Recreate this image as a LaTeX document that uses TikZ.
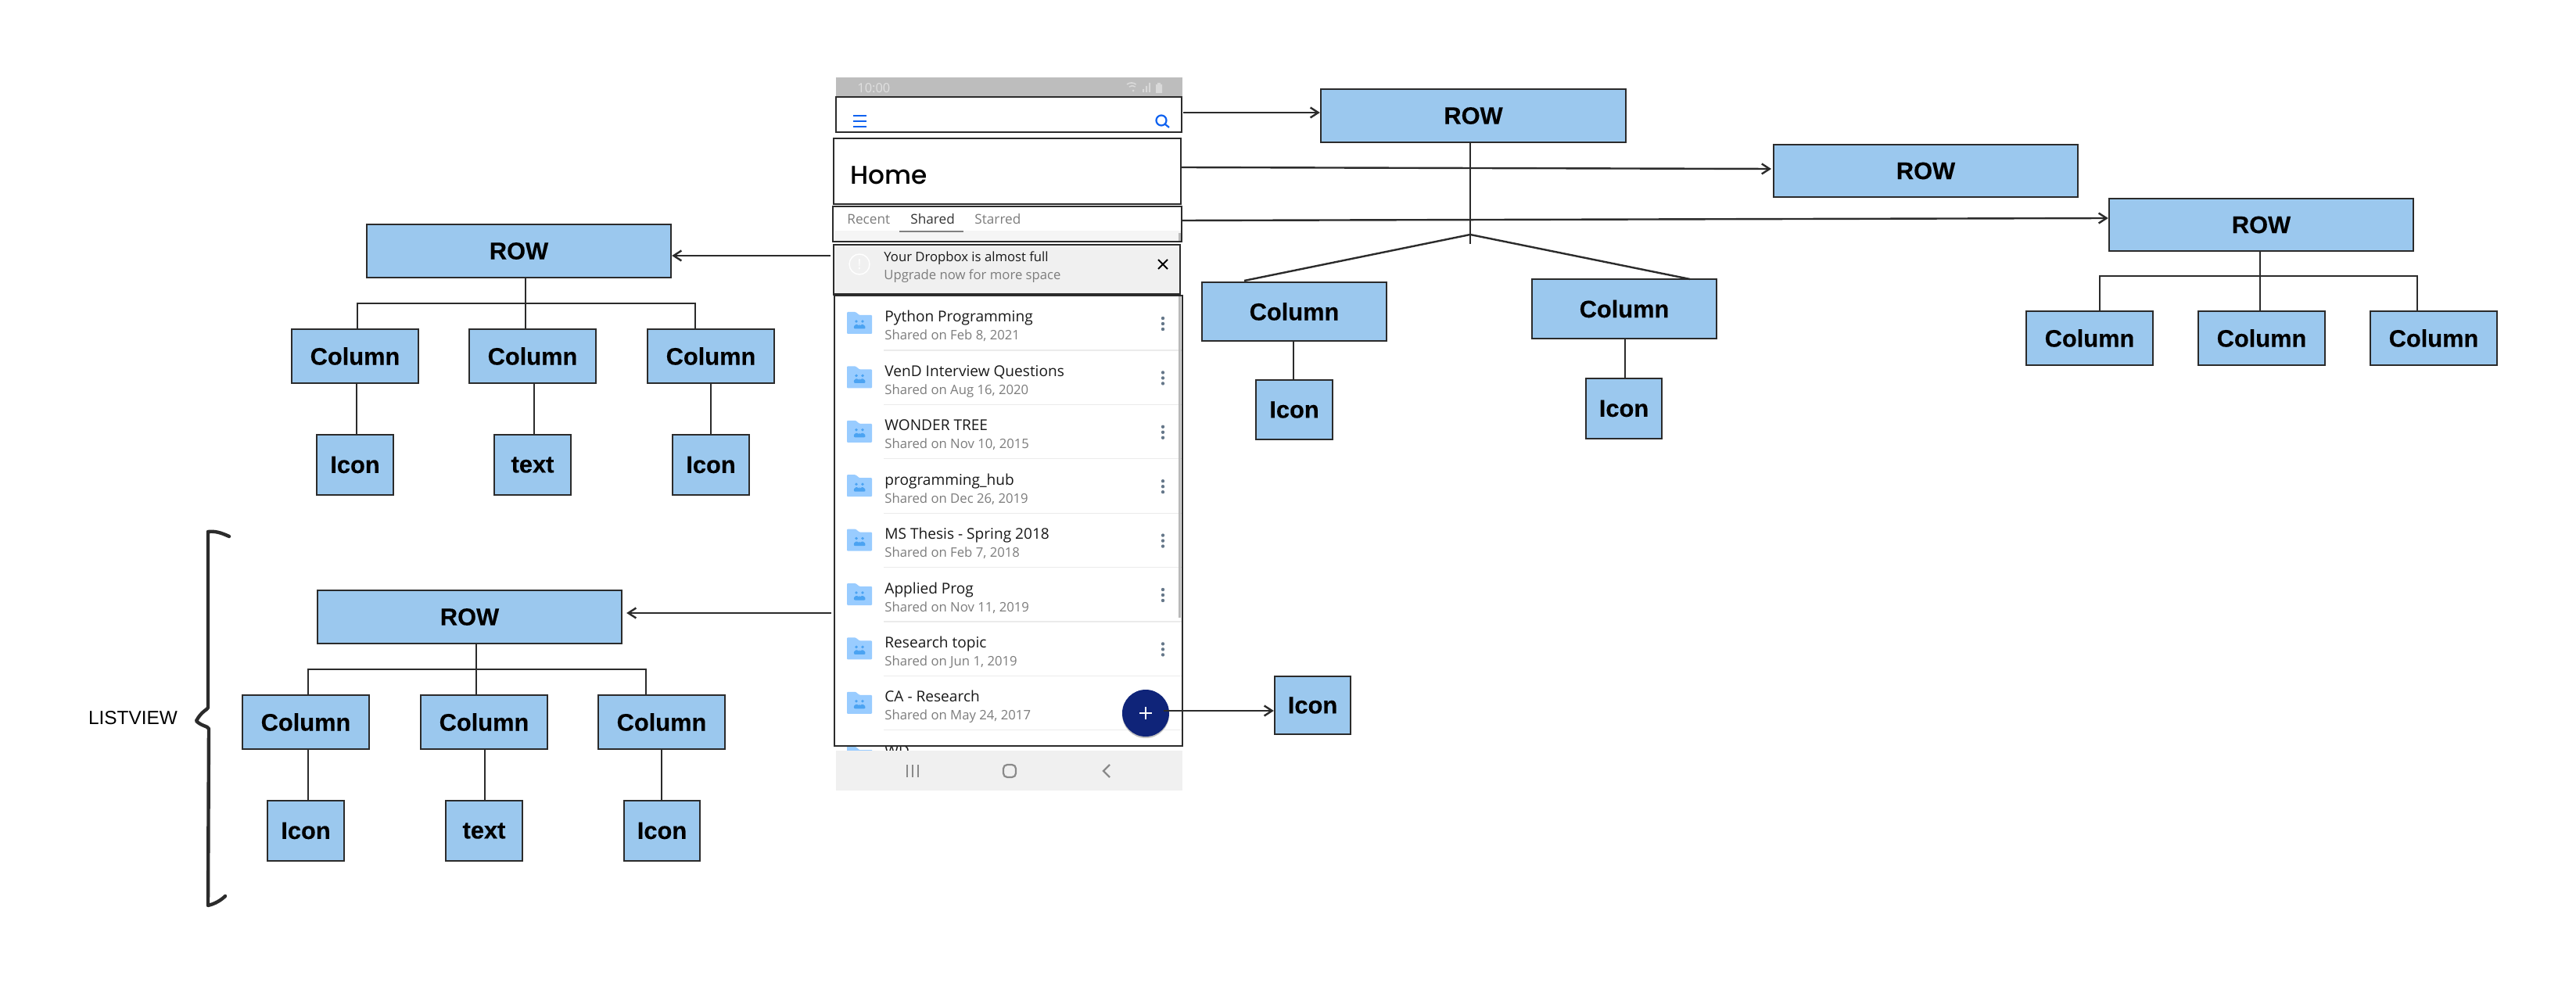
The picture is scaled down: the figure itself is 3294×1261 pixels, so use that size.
\documentclass[tikz,border=0pt]{standalone}
\usepackage{fontspec}
\setmainfont[BoldFeatures={FakeBold=0.25}]{Liberation Sans}
\newfontfamily\uifont{Open Sans}
\newfontfamily\homefont{Poppins Medium}
\usetikzlibrary{arrows.meta,calc}
\definecolor{boxblue}{HTML}{9BC8EE}
\definecolor{ink}{HTML}{2B2B2B}
\definecolor{folderblue}{HTML}{99CCFF}
\definecolor{folderdark}{HTML}{4BA3F2}
\definecolor{uiblue}{HTML}{0F62F0}
\definecolor{fabblue}{HTML}{0F2479}
\definecolor{subgrey}{HTML}{7C7C7C}
\definecolor{barfill}{HTML}{F0F0F0}
\definecolor{statusgrey}{HTML}{BDBDBD}
\definecolor{navgrey}{HTML}{8A8A8A}
\definecolor{dotgrey}{HTML}{66788A}
\tikzset{
  bluebox/.style={draw=ink,line width=1.2pt,fill=boxblue,inner sep=0pt,font=\fontsize{15.4}{18}\selectfont\bfseries,text=black},
  link/.style={draw=ink,line width=1.2pt},
  feed/.style={draw=ink,line width=1.2pt,-{Straight Barb[length=5pt,width=6.5pt,line width=1.2pt]}},
  frame/.style={draw=ink,line width=1.3pt,inner sep=0pt},
  title/.style={anchor=base west,inner sep=0pt,font=\uifont\fontsize{9.55}{11}\selectfont,text=black!90},
  subtitle/.style={anchor=base west,inner sep=0pt,font=\uifont\fontsize{8.35}{10}\selectfont,text=subgrey},
  tab/.style={anchor=base west,inner sep=0pt,font=\uifont\fontsize{8.6}{10}\selectfont,text=subgrey},
}
% name x1 y1 x2 y2 text
\newcommand{\blueboxat}[6]{\node[bluebox,minimum width={(#4-#2)*0.5pt},minimum height={(#5-#3)*0.5pt}] (#1) at ({(#2+#4)/2},{(#3+#5)/2}) {#6};}
\newcommand{\frameat}[6][]{\node[frame,#1,minimum width={(#5-#3)*0.5pt},minimum height={(#6-#4)*0.5pt}] (#2) at ({(#3+#5)/2},{(#4+#6)/2}) {};}
% index, title, subtitle
\newcommand{\listrow}[3]{%
  \pgfmathsetmacro{\rowy}{69.4*#1}%
  \begin{scope}[yshift={-\rowy*0.5pt}]
    \fill[folderblue,rounded corners=0.5pt] (1083,427) -- (1083,399) -- (1094,399) -- (1099,403) -- (1115,403) -- (1115,427) -- cycle;
    \fill[folderdark] (1095,411) circle (1.9) (1103,411) circle (1.9);
    \fill[folderdark,rounded corners=1pt] (1091.5,420.5) -- (1092.5,415) -- (1098,415) -- (1099,417) -- (1100,415) -- (1105.5,415) -- (1107,420.5) -- cycle;
    \ifnum#1<7
      \fill[dotgrey] (1487,407) circle (2.2) (1487,414) circle (2.2) (1487,421) circle (2.2);
    \fi
    \node[title] (rowtitle#1) at (1131,412) {#2};
    \node[subtitle] (rowsub#1) at (1131,435) {#3};
    \draw[black!8,line width=0.6pt] (1130,448) -- (1511,448);
  \end{scope}}
\begin{document}
\begin{tikzpicture}[x=0.5pt,y=-0.5pt]
\useasboundingbox[fill=white] (0,0) rectangle (3294,1261);

% ---- phone mock-up ----
\fill[statusgrey] (1069,99) rectangle (1512,124);
\node[anchor=base west,inner sep=0,font=\uifont\fontsize{8.2}{10}\selectfont,text=black!12] (clock) at (1096,119) {10:00};
\begin{scope}[white!85!black]
  \draw[line width=0.8pt] (1441,108) arc[start angle=230,end angle=310,radius=9];
  \draw[line width=0.8pt] (1444,111) arc[start angle=230,end angle=310,radius=6];
  \fill (1449,116) circle (1.5);
  \fill (1461,118) rectangle (1463,114) (1465,118) rectangle (1467,110) (1469,118) rectangle (1471,106);
  \fill (1478,108) rectangle (1486,119) (1480,106) rectangle (1484,108);
\end{scope}

% list items (below nav bar and frames)
\listrow{0}{Python Programming}{Shared on Feb 8, 2021}
\listrow{1}{VenD Interview Questions}{Shared on Aug 16, 2020}
\listrow{2}{WONDER TREE}{Shared on Nov 10, 2015}
\listrow{3}{programming\_hub}{Shared on Dec 26, 2019}
\listrow{4}{MS Thesis - Spring 2018}{Shared on Feb 7, 2018}
\listrow{5}{Applied Prog}{Shared on Nov 11, 2019}
\listrow{6}{Research topic}{Shared on Jun 1, 2019}
\listrow{7}{CA - Research}{Shared on May 24, 2017}
\fill[folderblue] (1083,980) -- (1083,955) -- (1094,955) -- (1099,959) -- (1115,959) -- (1115,980) -- cycle;
\node[title] (rowpartial) at (1131,967) {WD};
\fill[gray!55] (1506.5,378) rectangle (1510,790);

% nav bar
\fill[barfill] (1069,960) rectangle (1512,1011);
\fill[white] (1069,1011) rectangle (1512,1030);
\draw[navgrey,line width=1.1pt] (1160,978) -- (1160,994) (1167,978) -- (1167,994) (1174,978) -- (1174,994);
\draw[navgrey,line width=1.1pt,rounded corners=2.5pt] (1283,978) rectangle (1299,994);
\draw[navgrey,line width=1.1pt] (1419,978) -- (1411,986) -- (1419,994);

% app bar
\frameat{appbar}{1069}{124}{1511}{169}
\draw[uiblue,line width=1pt] (1091,148) -- (1108,148) (1091,155) -- (1108,155) (1091,162) -- (1108,162);
\draw[uiblue,line width=1.1pt] (1485,154) circle (6.5) (1490,159) -- (1495,163);

% home
\frameat{homebar}{1066}{177}{1510}{261}
\node[anchor=base west,inner sep=0,font=\homefont\fontsize{16.4}{18}\selectfont,text=black] (hometext) at (1087,236) {Home};

% tabs
\fill[black!4] (1067,295) rectangle (1510,309);
\fill[gray!55] (1507,298) rectangle (1510,309);
\frameat{tabbar}{1065}{264}{1511}{309}
\node[tab] (tabrecent) at (1083,287) {Recent};
\node[tab,text=black!80] (tabshared) at (1164,287) {Shared};
\node[tab] (tabstarred) at (1246,287) {Starred};
\draw[gray,line width=1.2pt] (1150,296) -- (1232,296);

% banner
\frameat[fill=barfill]{banner}{1066}{313}{1509}{377}
\draw[white,line width=0.7pt] (1099,338) circle (13);
\node[inner sep=0,text=white,font=\uifont\fontsize{9}{10}\selectfont] (bang) at (1099,338) {!};
\node[anchor=base west,inner sep=0,font=\uifont\fontsize{8.35}{10}\selectfont,text=black!90] (bannerone) at (1130,335) {Your Dropbox is almost full};
\node[anchor=base west,inner sep=0,font=\uifont\fontsize{8.35}{10}\selectfont,text=subgrey] (bannertwo) at (1130,358) {Upgrade now for more space};
\draw[black,line width=0.9pt] (1481,332) -- (1493,344) (1493,332) -- (1481,344);

% list frame
\frameat{listframe}{1067}{378}{1512}{954}
\draw[ink,line width=1.6pt] (1066,377) -- (1509,377);

% fab
\fill[black!25] (1465,914) circle (30);
\node[circle,fill=fabblue,minimum size=30pt,inner sep=0] (fab) at (1465,912) {};
\draw[white,line width=1pt] (1457,912) -- (1473,912) (1465,904) -- (1465,920);

% ---- top right trees ----
\blueboxat{rowa}{1689}{114}{2079}{182}{ROW}
\blueboxat{rowb}{2268}{185}{2657}{252}{ROW}
\blueboxat{rowc}{2697}{254}{3086}{321}{ROW}
\blueboxat{cola}{1537}{361}{1773}{436}{Column}
\blueboxat{colb}{1959}{357}{2195}{433}{Column}
\blueboxat{icona}{1606}{486}{1704}{562}{Icon}
\blueboxat{iconb}{2028}{484}{2125}{561}{Icon}
\blueboxat{iconfab}{1630}{865}{1727}{939}{Icon}
\blueboxat{colc}{2591}{398}{2753}{467}{Column}
\blueboxat{cold}{2811}{398}{2973}{467}{Column}
\blueboxat{cole}{3031}{398}{3193}{467}{Column}

\coordinate (stem) at (1880,312);
\coordinate (fork) at (1880,300);
\coordinate (foota) at (1591,359);
\coordinate (footb) at (2161,357);
\draw[link] (rowa.south -| stem) -- (stem);
\draw[link] (foota) -- (fork) -- (footb);
\draw[link] (cola.south -| 1654,0) -- (icona.north -| 1654,0);
\draw[link] (colb.south -| 2078,0) -- (iconb.north -| 2078,0);

\coordinate (busc) at (2685,353);
\coordinate (busd) at (3091,353);
\coordinate (busm) at (2890,353);
\draw[link] (rowc.south -| busm) -- (cold.north -| busm);
\draw[link] (colc.north -| busc) -- (busc) -- (busd) -- (cole.north -| busd);

\coordinate (fromhome) at (1509,214);
\coordinate (fromapp) at (1513,144);
\coordinate (fromtabs) at (1511,282);
\coordinate (fromfab) at (1488,909);
\draw[feed] (fromapp) -- (rowa.west |- 0,144);
\draw[feed] (fromhome) -- (2265,216) coordinate (tohome);
\draw[feed] (fromtabs) -- (rowc.west |- 0,279);
\draw[feed] (fromfab) -- (iconfab.west |- 0,909);

% ---- left top tree ----
\blueboxat{rowl}{469}{287}{858}{355}{ROW}
\blueboxat{coll}{373}{421}{535}{490}{Column}
\blueboxat{colm}{600}{421}{762}{490}{Column}
\blueboxat{coln}{828}{421}{990}{490}{Column}
\blueboxat{iconl}{405}{556}{503}{633}{Icon}
\blueboxat{textm}{632}{556}{730}{633}{text}
\blueboxat{iconn}{860}{556}{958}{633}{Icon}
\coordinate (busl) at (457,388);
\coordinate (busr) at (889,388);
\coordinate (busc2) at (672,388);
\draw[link] (rowl.south -| busc2) -- (colm.north -| busc2);
\draw[link] (coll.north -| busl) -- (busl) -- (busr) -- (coln.north -| busr);
\draw[link] (coll.south -| 456,0) -- (iconl.north -| 456,0);
\draw[link] (colm.south -| 683,0) -- (textm.north -| 683,0);
\draw[link] (coln.south -| 909,0) -- (iconn.north -| 909,0);
\draw[feed] (banner.west |- 0,327) ++(-3,0) -- (rowl.east |- 0,327);

% ---- left bottom tree ----
\blueboxat{rowp}{406}{755}{795}{823}{ROW}
\blueboxat{colp}{310}{889}{472}{958}{Column}
\blueboxat{colq}{538}{889}{700}{958}{Column}
\blueboxat{colr}{765}{889}{927}{958}{Column}
\blueboxat{iconp}{342}{1024}{440}{1101}{Icon}
\blueboxat{textq}{570}{1024}{668}{1101}{text}
\blueboxat{iconr}{798}{1024}{895}{1101}{Icon}
\coordinate (busp) at (394,856);
\coordinate (busr2) at (826,856);
\coordinate (busq) at (609,856);
\draw[link] (rowp.south -| busq) -- (colq.north -| busq);
\draw[link] (colp.north -| busp) -- (busp) -- (busr2) -- (colr.north -| busr2);
\draw[link] (colp.south -| 394,0) -- (iconp.north -| 394,0);
\draw[link] (colq.south -| 620,0) -- (textq.north -| 620,0);
\draw[link] (colr.south -| 846,0) -- (iconr.north -| 846,0);
\draw[feed,shorten >=2.5pt] (listframe.west |- 0,784) ++(-3,0) -- (rowp.east |- 0,784);

% brace
\draw[ink,line width=2.2pt,line cap=round,line join=round] (293,686) .. controls (282,681) and (275,679) .. (266,680) -- (266,905) .. controls (265,908) and (258,909) .. (251,922) .. controls (258,929) and (265,928) .. (267,932) -- (266,1158) .. controls (275,1156) and (283,1151) .. (288,1146);
\node[inner sep=0,font=\fontsize{12.2}{15}\selectfont] (listview) at (170,918) {LISTVIEW};
\end{tikzpicture}
\end{document}
